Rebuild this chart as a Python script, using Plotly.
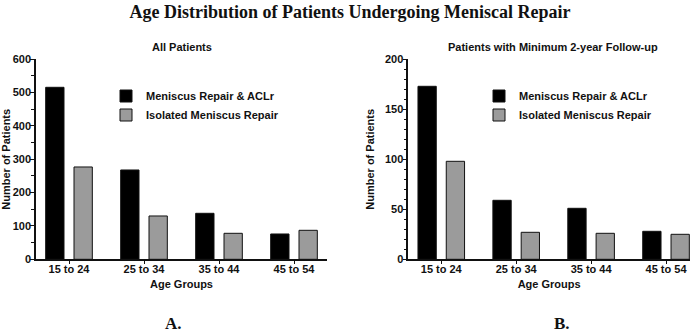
import plotly.graph_objects as go
from plotly.subplots import make_subplots

age_groups = ["15 to 24", "25 to 34", "35 to 44", "45 to 54"]
all_acl = [516, 268, 138, 76]
all_iso = [277, 130, 78, 87]
fu_acl = [173, 59, 51, 28]
fu_iso = [98, 27, 26, 25]
series_names = ["Meniscus Repair & ACLr", "Isolated Meniscus Repair"]
panel_titles = ["All Patients", "Patients with Minimum 2-year Follow-up"]
main_title = "Age Distribution of Patients Undergoing Meniscal Repair"
panel_labels = ["A.", "B."]

W, H = 700, 333
SANS = "Liberation Sans, Arial, sans-serif"
SERIF = "Liberation Serif, Times New Roman, serif"
BLACK = "#000000"
GRAY = "#9b9b9b"

fig = make_subplots(rows=1, cols=2)

xidx = list(range(len(age_groups)))
for col, (a, b, leg) in enumerate([(all_acl, all_iso, "legend"), (fu_acl, fu_iso, "legend2")], start=1):
    fig.add_trace(go.Bar(x=xidx, y=a, name=series_names[0], marker=dict(color=BLACK, line=dict(color="#111", width=1)),
                         legend=leg, cliponaxis=False, hoverinfo="skip"), row=1, col=col)
    fig.add_trace(go.Bar(x=xidx, y=b, name=series_names[1], marker=dict(color=GRAY, line=dict(color="#111", width=1)),
                         legend=leg, cliponaxis=False, hoverinfo="skip"), row=1, col=col)

ytop = 1 - 59.3 / H
ybot = 1 - 259.3 / H
axfont = dict(family=SANS, size=11, color="#111", weight="bold")

common_x = dict(tickmode="array", tickvals=xidx, ticktext=age_groups, showline=True, linecolor="#111",
                linewidth=1.5, ticks="outside", ticklen=3, tickcolor="#111", showgrid=False, zeroline=False,
                tickfont=axfont, automargin=False, ticklabelstandoff=-4,
                title=dict(text="Age Groups", font=axfont, standoff=6))
common_y = dict(showline=True, linecolor="#111", linewidth=1.5, ticks="outside", ticklen=4, tickcolor="#111",
                showgrid=False, zeroline=False, tickfont=axfont, automargin=False, ticklabelstandoff=-3,
                title=dict(text="Number of Patients", font=axfont, standoff=8))

legfont = dict(family=SANS, size=11, color="#111", weight="bold")
fig.update_layout(
    xaxis=dict(common_x, domain=[36 / W, 327 / W], range=[-0.44, 3.44]),
    xaxis2=dict(common_x, domain=[408.3 / W, 690 / W], range=[-0.44, 3.32]),
    yaxis=dict(common_y, domain=[ybot, ytop], range=[0, 600], dtick=100,
               minor=dict(dtick=50, ticks="outside", ticklen=3, tickcolor="#111")),
    yaxis2=dict(common_y, domain=[ybot, ytop], range=[0, 200], dtick=50,
                minor=dict(dtick=10, ticks="outside", ticklen=3, tickcolor="#111")),
    bargap=0.245,
    bargroupgap=0.353,
    barmode="group",
    width=W, height=H,
    margin=dict(l=0, r=0, t=0, b=0),
    paper_bgcolor="white", plot_bgcolor="white",
    font=dict(family=SANS, size=11, color="#111"),
    legend=dict(x=106 / W, y=1 - 81.5 / H, xanchor="left", yanchor="top", bgcolor="rgba(0,0,0,0)",
                font=legfont, itemwidth=30, tracegroupgap=0),
    legend2=dict(x=479 / W, y=1 - 81.5 / H, xanchor="left", yanchor="top", bgcolor="rgba(0,0,0,0)",
                 font=legfont, itemwidth=30, tracegroupgap=0),
    title=dict(text="<b>" + main_title + "</b>", x=0.5, xanchor="center", y=1 - 12 / H, yanchor="middle",
               font=dict(family=SERIF, size=18, color="#111")),
    showlegend=True,
    hovermode=False,
)

annotations = [
    dict(text=panel_titles[0], x=182 / W, y=1 - 47 / H),
    dict(text=panel_titles[1], x=553 / W, y=1 - 47 / H),
]
for a in annotations:
    a.update(xref="paper", yref="paper", xanchor="center", yanchor="middle", showarrow=False,
             font=dict(family=SANS, size=11, color="#111", weight="bold"))
for lbl, xp in zip(panel_labels, [173, 562]):
    annotations.append(dict(text="<b>" + lbl + "</b>", x=xp / W, y=1 - 323 / H, xref="paper", yref="paper",
                            xanchor="center", yanchor="middle", showarrow=False,
                            font=dict(family=SERIF, size=17, color="#111")))
fig.update_layout(annotations=annotations)

fig.write_html("out.html", config={"displayModeBar": False},
               post_script="document.body.style.margin='0';document.body.style.overflow='hidden';")
